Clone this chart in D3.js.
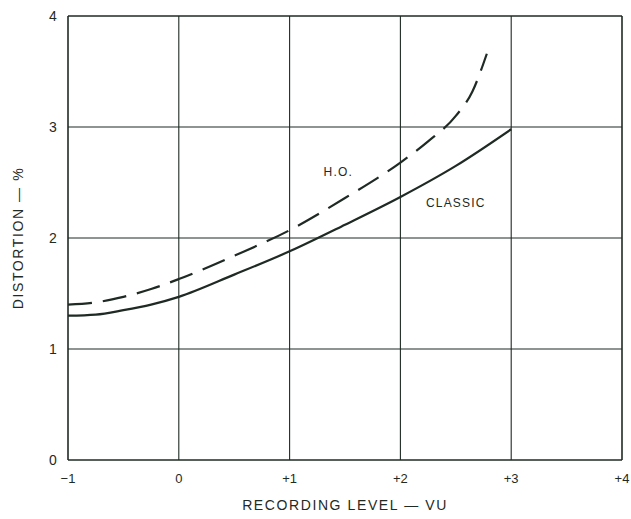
<!DOCTYPE html>
<html><head><meta charset="utf-8">
<script src="https://cdn.jsdelivr.net/npm/d3@7"></script>
<style>body{margin:0;background:#fff}svg{display:block}</style>
</head><body>
<script>
const xTicks = [-1, 0, 1, 2, 3, 4];
const xTickLabels = ["\u22121", "0", "+1", "+2", "+3", "+4"];
const yTicks = [0, 1, 2, 3, 4];
const yTickLabels = ["0", "1", "2", "3", "4"];

const classicX = [-1, -0.75, -0.5, -0.25, 0, 0.5, 1, 1.5, 2, 2.5, 3];
const classicY = [1.30, 1.31, 1.35, 1.40, 1.47, 1.67, 1.88, 2.12, 2.37, 2.65, 2.98];

const hoX = [-1, -0.75, -0.5, -0.25, 0, 0.5, 1, 1.5, 2, 2.25, 2.5, 2.65, 2.78];
const hoY = [1.40, 1.42, 1.47, 1.54, 1.63, 1.84, 2.07, 2.36, 2.68, 2.87, 3.10, 3.32, 3.66];

const labels = [
  {text: "H.O.", x: 1.44, y: 2.56},
  {text: "CLASSIC", x: 2.5, y: 2.28}
];

const W = 631, H = 519;
const margin = {left: 68, right: 9, top: 16, bottom: 59};
const svg = d3.select("body").append("svg").attr("width", W).attr("height", H);
const x = d3.scaleLinear().domain([-1, 4]).range([margin.left, W - margin.right]);
const y = d3.scaleLinear().domain([0, 4]).range([H - margin.bottom, margin.top]);
const ink = "#1f2a24";
const font = "Liberation Sans, Arial, sans-serif";

// grid
svg.append("g").selectAll("line.v").data(xTicks).join("line")
  .attr("x1", d => x(d)).attr("x2", d => x(d))
  .attr("y1", y(0)).attr("y2", y(4))
  .attr("stroke", ink).attr("stroke-width", d => (d === -1 || d === 4) ? 1.6 : 1.1);
svg.append("g").selectAll("line.h").data(yTicks).join("line")
  .attr("y1", d => y(d)).attr("y2", d => y(d))
  .attr("x1", x(-1)).attr("x2", x(4))
  .attr("stroke", ink).attr("stroke-width", d => (d === 0 || d === 4) ? 1.6 : 1.1);

// tick labels
svg.append("g").selectAll("text").data(xTicks).join("text")
  .attr("x", d => x(d)).attr("y", y(0) + 23)
  .attr("text-anchor", "middle").attr("font-family", font).attr("font-size", 13)
  .attr("fill", ink).text((d, i) => xTickLabels[i]);
svg.append("g").selectAll("text").data(yTicks).join("text")
  .attr("x", x(-1) - 15).attr("y", d => y(d) + 5)
  .attr("text-anchor", "middle").attr("font-family", font).attr("font-size", 14)
  .attr("fill", ink).text((d, i) => yTickLabels[i]);

// curves
const line = d3.line().x(d => x(d[0])).y(d => y(d[1])).curve(d3.curveMonotoneX);
svg.append("path").datum(classicX.map((v, i) => [v, classicY[i]]))
  .attr("d", line).attr("fill", "none").attr("stroke", ink).attr("stroke-width", 2.2);
svg.append("path").datum(hoX.map((v, i) => [v, hoY[i]]))
  .attr("d", line).attr("fill", "none").attr("stroke", ink).attr("stroke-width", 2.2)
  .attr("stroke-dasharray", "24,11");

// curve labels
svg.append("g").selectAll("text").data(labels).join("text")
  .attr("x", d => x(d.x)).attr("y", d => y(d.y))
  .attr("text-anchor", "middle").attr("font-family", font).attr("font-size", 12)
  .attr("letter-spacing", 1.2).attr("fill", ink).text(d => d.text);

// axis titles
svg.append("text").attr("x", 345).attr("y", 510)
  .attr("text-anchor", "middle").attr("font-family", font).attr("font-size", 14)
  .attr("letter-spacing", 1.6).attr("fill", ink).text("RECORDING LEVEL \u2014 VU");
svg.append("text").attr("transform", `translate(23,${y(2)}) rotate(-90)`)
  .attr("text-anchor", "middle").attr("font-family", font).attr("font-size", 14)
  .attr("letter-spacing", 1.6).attr("fill", ink).text("DISTORTION \u2014 %");
</script>
</body></html>
